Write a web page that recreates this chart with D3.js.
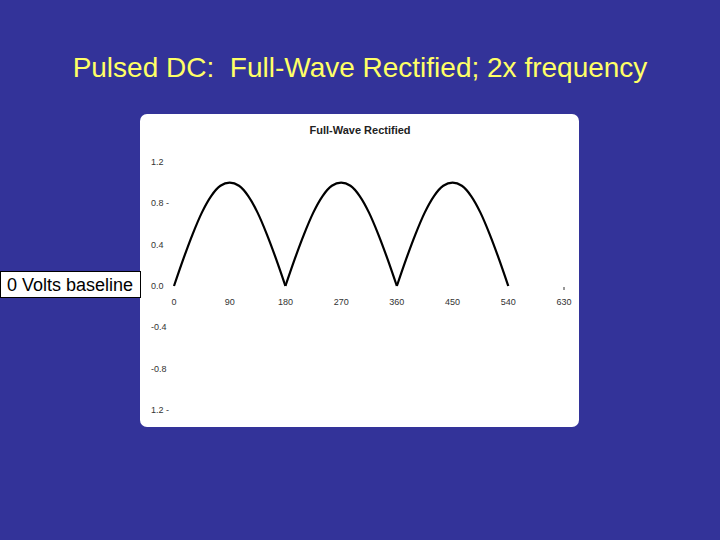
<!DOCTYPE html>
<html lang="en">
	<head>
		<meta charset="utf-8">
		<title>Pulsed DC: Full-Wave Rectified</title>
		<script src="https://cdn.jsdelivr.net/npm/d3@7"></script>
		<style type="text/css">
			body { margin: 0; background: #333399; }
			text { font-family: Arial, "Liberation Sans", sans-serif; white-space: pre; }
		</style>
	</head>
	<body>
		<script type="text/javascript">

			//Slide and chart texts
			var slideTitle = "Pulsed DC:  Full-Wave Rectified; 2x frequency";
			var chartTitle = "Full-Wave Rectified";
			var calloutText = "0 Volts baseline";

			//Axis ticks
			var xTicks = [0, 90, 180, 270, 360, 450, 540, 630];
			var yTickValues = [1.2, 0.8, 0.4, 0.0, -0.4, -0.8, -1.2];
			var yTickLabels = ["1.2", "0.8 -", "0.4", "0.0", "-0.4", "-0.8", "1.2 -"];

			//Series: degrees and rectified voltage
			var degrees = [0, 15, 30, 45, 60, 75, 90, 105, 120, 135, 150, 165, 180,
			               195, 210, 225, 240, 255, 270, 285, 300, 315, 330, 345, 360,
			               375, 390, 405, 420, 435, 450, 465, 480, 495, 510, 525, 540];
			var volts = [0, 0.26, 0.5, 0.71, 0.87, 0.97, 1.0, 0.97, 0.87, 0.71, 0.5, 0.26, 0,
			             0.26, 0.5, 0.71, 0.87, 0.97, 1.0, 0.97, 0.87, 0.71, 0.5, 0.26, 0,
			             0.26, 0.5, 0.71, 0.87, 0.97, 1.0, 0.97, 0.87, 0.71, 0.5, 0.26, 0];

			var w = 720;
			var h = 540;

			var svg = d3.select("body")
						.append("svg")
						.attr("width", w)
						.attr("height", h);

			svg.append("rect")
			   .attr("width", w)
			   .attr("height", h)
			   .attr("fill", "#333399");

			svg.append("text")
			   .attr("x", 360)
			   .attr("y", 77)
			   .attr("text-anchor", "middle")
			   .attr("font-size", 28)
			   .attr("fill", "#ffff66")
			   .text(slideTitle);

			//White chart panel
			svg.append("rect")
			   .attr("x", 140)
			   .attr("y", 114)
			   .attr("width", 439)
			   .attr("height", 313)
			   .attr("rx", 7)
			   .attr("fill", "#ffffff");

			svg.append("text")
			   .attr("x", 360)
			   .attr("y", 134)
			   .attr("text-anchor", "middle")
			   .attr("font-size", 11)
			   .attr("font-weight", "bold")
			   .attr("fill", "#222222")
			   .text(chartTitle);

			var xScale = d3.scaleLinear()
						   .domain([0, 630])
						   .range([174, 564]);

			var yScale = d3.scaleLinear()
						   .domain([-1.2, 1.2])
						   .range([410, 162]);

			//x tick labels
			svg.selectAll("text.xtick")
			   .data(xTicks)
			   .enter()
			   .append("text")
			   .attr("class", "xtick")
			   .attr("x", function (d) { return xScale(d); })
			   .attr("y", 305)
			   .attr("text-anchor", "middle")
			   .attr("font-size", 9)
			   .attr("fill", "#333333")
			   .text(function (d) { return d; });

			//y tick labels
			svg.selectAll("text.ytick")
			   .data(yTickValues)
			   .enter()
			   .append("text")
			   .attr("class", "ytick")
			   .attr("x", 151)
			   .attr("y", function (d) { return yScale(d) + 3; })
			   .attr("font-size", 9)
			   .attr("fill", "#333333")
			   .text(function (d, i) { return yTickLabels[i]; });

			//stray tick at 630
			svg.append("line")
			   .attr("x1", xScale(630))
			   .attr("x2", xScale(630))
			   .attr("y1", yScale(0) + 1)
			   .attr("y2", yScale(0) + 4)
			   .attr("stroke", "#333333")
			   .attr("stroke-width", 1);

			//Split at each zero so the cusps stay sharp
			var segments = [[0, 12], [12, 24], [24, 36]];
			segments.forEach(function (s) {
				svg.append("path")
				   .datum(volts.slice(s[0], s[1] + 1))
				   .attr("d", d3.line()
						 .x(function (d, i) { return xScale(degrees[s[0] + i]); })
						 .y(function (d) { return yScale(d); })
						 .curve(d3.curveMonotoneX))
				   .attr("fill", "none")
				   .attr("stroke", "#000000")
				   .attr("stroke-width", 2.2);
			});

			//Callout box
			svg.append("rect")
			   .attr("x", 0.5)
			   .attr("y", 271.5)
			   .attr("width", 140)
			   .attr("height", 26)
			   .attr("fill", "#ffffff")
			   .attr("stroke", "#000000")
			   .attr("stroke-width", 1);

			svg.append("text")
			   .attr("x", 70)
			   .attr("y", 291)
			   .attr("text-anchor", "middle")
			   .attr("font-size", 18)
			   .attr("fill", "#000000")
			   .text(calloutText);

		</script>
	</body>
</html>
